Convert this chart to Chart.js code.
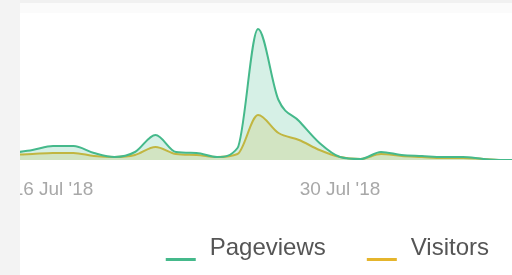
<!DOCTYPE html>
<html>
<head>
<meta charset="utf-8">
<script src="https://cdn.jsdelivr.net/npm/chart.js@4/dist/chart.umd.min.js"></script>
<style>
  html, body { margin: 0; padding: 0; background: #ffffff; }
  body { width: 512px; height: 275px; position: relative; overflow: hidden; }
  #strip { position: absolute; left: 0; top: 0; width: 20px; height: 275px; background: #f3f3f3; }
  #topband { position: absolute; left: 20px; top: 0; width: 492px; height: 3px; background: #f1f1f1; }
  #topband2 { position: absolute; left: 20px; top: 3px; width: 492px; height: 10px; background: #fbfbfb; }
  #c { position: absolute; left: 20px; top: 0; }
</style>
</head>
<body>
<div id="strip"></div>
<div id="topband"></div>
<div id="topband2"></div>
<canvas id="c" width="492" height="275"></canvas>
<script>
// Days shown (14 Jul 2018 .. 8 Aug 2018)
const days = ['14 Jul','15 Jul','16 Jul','17 Jul','18 Jul','19 Jul','20 Jul','21 Jul','22 Jul','23 Jul',
              '24 Jul','25 Jul','26 Jul','27 Jul','28 Jul','29 Jul','30 Jul','31 Jul','1 Aug','2 Aug',
              '3 Aug','4 Aug','5 Aug','6 Aug','7 Aug','8 Aug'];
const pageviews = [7,10,14,14,7,3,8,25,8,7,3,12,131,60,39,17,3,1,8,5,4,3,3,1,0,0];
const visitors  = [5,6,7,7,4,3,5,13,6,5,3,6,45,27,20,10,3,1,6,4,3,2,2,1,0,0];
const tickDays   = ['16 Jul','30 Jul'];
const tickLabels = ["16 Jul '18", "30 Jul '18"];

const GREEN = '#45b98b';
const YELLOW = '#e5b52c';

function marker(color) {
  const m = document.createElement('canvas');
  m.width = 50; m.height = 30;
  const g = m.getContext('2d');
  g.fillStyle = color;
  g.fillRect(18, 25, 30, 3);
  return m;
}

const toPts = arr => arr.map((v, i) => ({x: i, y: v}));
const tickIdx = tickDays.map(d => days.indexOf(d));

new Chart(document.getElementById('c'), {
  type: 'line',
  data: {
    datasets: [
      {
        label: 'Pageviews',
        data: toPts(pageviews),
        borderColor: GREEN,
        backgroundColor: 'rgba(69,185,139,0.22)',
        borderWidth: 2,
        fill: 'origin',
        pointRadius: 0,
        pointStyle: marker(GREEN),
        cubicInterpolationMode: 'monotone'
      },
      {
        label: 'Visitors',
        data: toPts(visitors),
        borderColor: YELLOW,
        backgroundColor: 'rgba(229,181,44,0.22)',
        borderWidth: 2,
        fill: 'origin',
        pointRadius: 0,
        pointStyle: marker(YELLOW),
        cubicInterpolationMode: 'monotone'
      }
    ]
  },
  options: {
    responsive: false,
    animation: false,
    layout: { padding: { top: 13, bottom: 5, left: 0, right: 0 } },
    plugins: {
      tooltip: { enabled: false },
      legend: {
        position: 'bottom',
        align: 'end',
        labels: {
          usePointStyle: true,
          pointStyleWidth: 50,
          padding: 23,
          color: '#555555',
          font: { family: 'Liberation Sans', size: 24 }
        }
      }
    },
    scales: {
      x: {
        type: 'linear',
        min: 2 - 1.61,
        max: 2 + 22.39,
        grid: { display: false, drawTicks: false },
        border: { display: false },
        afterBuildTicks: s => { s.ticks = tickIdx.map(v => ({value: v})); },
        afterFit: s => { s.paddingLeft = 0; s.paddingRight = 0; s.height = 53; },
        ticks: {
          autoSkip: false,
          maxRotation: 0,
          padding: 18,
          color: '#a8a8a8',
          font: { family: 'Liberation Sans', size: 19 },
          callback: v => { const k = tickIdx.indexOf(v); return k >= 0 ? tickLabels[k] : ''; }
        }
      },
      y: {
        display: false,
        min: 0,
        max: 147
      }
    }
  }
});
</script>
</body>
</html>
